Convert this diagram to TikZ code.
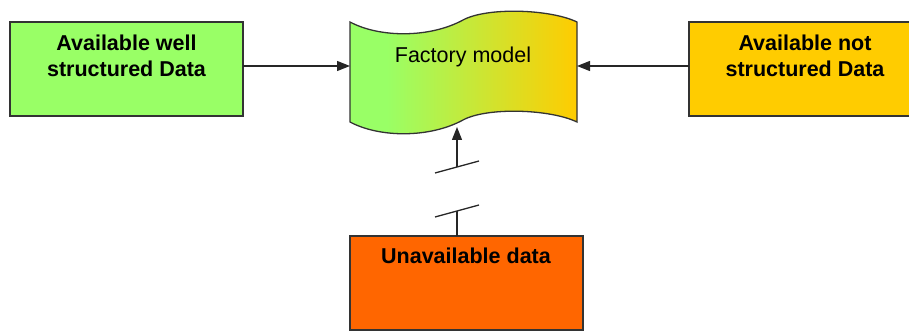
\documentclass[tikz,border=0pt]{standalone}
\usepackage{fontspec}
\setmainfont{Liberation Sans}
\usetikzlibrary{arrows.meta}
\definecolor{lgreen}{HTML}{99FF66}
\definecolor{gold}{HTML}{FFCC00}
\definecolor{orng}{HTML}{FF6600}
\definecolor{edge}{HTML}{333333}
\pgfdeclarehorizontalshading{tapeshade}{100bp}{color(0bp)=(lgreen); color(25bp)=(lgreen); color(33bp)=(lgreen); color(75bp)=(gold); color(100bp)=(gold)}
\begin{document}
\begin{tikzpicture}[x=1pt,y=-1pt,
  box/.style={draw=edge,line width=1.3pt,minimum width=233pt,minimum height=94pt,inner sep=0pt,outer sep=0pt,anchor=north west},
  boxtext/.style={font=\bfseries\fontsize{21.5}{26}\selectfont,align=center,anchor=north,inner sep=0pt},
  conn/.style={draw=black!85,line width=1.3pt},
  tip/.style={-{Triangle[length=13pt,width=10pt]}}]
\clip (0,0) rectangle (909,331);
% boxes
\node[box,fill=lgreen] (lb) at (10,22) {};
\node[box,fill=gold] (rb) at (689,22) {};
\node[box,fill=orng] (bb) at (350,236) {};
\node[boxtext] (lbt) at (126.5,34.5) {Available well\\structured Data};
\node[boxtext] (rbt) at (805,34.5) {Available not\\structured Data};
\node[boxtext] (bbt) at (466,248) {Unavailable data};
% tape shape
\shadedraw[shading=tapeshade,draw=edge,line width=1.3pt]
  (350,22) .. controls (380,38) and (430,38) .. (463,20)
  .. controls (487,7) and (550,9) .. (577,22) -- (577,122)
  .. controls (550,109) and (487,107) .. (463,120)
  .. controls (430,138) and (380,138) .. (350,122) -- cycle;
\node[font=\fontsize{21.5}{26}\selectfont,anchor=north,inner sep=0pt] (fm) at (463,46.5) {Factory model};
% attachment points
\coordinate (tl) at (350,66);
\coordinate (tr) at (577,66);
\coordinate (tb) at (457,127);
\coordinate (g1) at (457,167);
\coordinate (g2) at (457,211);
\coordinate (s1a) at (435,173);
\coordinate (s1b) at (479,161);
\coordinate (s2a) at (435,217);
\coordinate (s2b) at (479,205);
% connectors
\draw[conn,tip] (tl -| lb.east) -- (tl);
\draw[conn,tip] (tr -| rb.west) -- (tr);
\draw[conn] (g2 |- bb.north) -- (g2);
\draw[conn,tip] (g1) -- (tb);
\draw[conn] (s1a) -- (s1b);
\draw[conn] (s2a) -- (s2b);
\end{tikzpicture}
\end{document}
